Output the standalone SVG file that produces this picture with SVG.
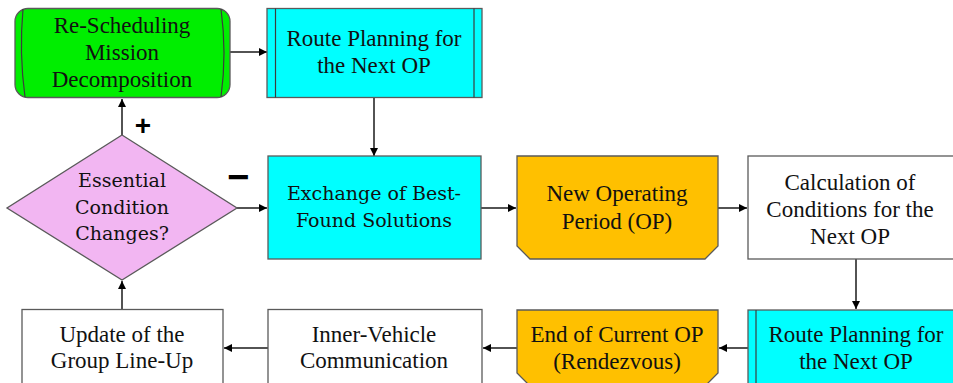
<svg xmlns="http://www.w3.org/2000/svg" width="953" height="383" viewBox="0 0 953 383">
  <style>
    .box { stroke: #5a5a5a; stroke-width: 1.3; }
    .inner { fill: none; stroke: #3c3c3c; stroke-width: 1.2; }
    .white { fill: #ffffff; }
    .cyan { fill: #00ffff; }
    .amber { fill: #ffc000; }
    .green { fill: #00ee00; }
    .pink { fill: #f2b6f2; }
    .lbl { font-family: "Liberation Serif", "DejaVu Serif", serif; font-size: 23px; fill: #111111; text-anchor: middle; }
    .lbl2 { font-family: "DejaVu Serif", "Liberation Serif", serif; font-size: 19px; fill: #111111; text-anchor: middle; }
    .sign { font-family: "Liberation Sans", Arial, sans-serif; font-weight: bold; font-size: 28px; fill: #000000; text-anchor: middle; }
    .conn { fill: none; stroke: #1a1a1a; stroke-width: 1.5; marker-end: url(#arrow); }
  </style>
  <defs>
    <marker id="arrow" viewBox="0 0 10 10" refX="10" refY="5" markerWidth="8" markerHeight="8" markerUnits="userSpaceOnUse" orient="auto">
      <path d="M0,0 L10,5 L0,10 Z" fill="#000000"/>
    </marker>
  </defs>

  <rect width="953" height="383" fill="#ffffff"/>

  <g id="connectors">
    <line class="conn" x1="230" y1="52" x2="267" y2="52"/>
    <line class="conn" x1="374" y1="98" x2="374" y2="156"/>
    <line class="conn" x1="237" y1="208" x2="267" y2="208"/>
    <line class="conn" x1="481" y1="208" x2="516" y2="208"/>
    <line class="conn" x1="718" y1="208" x2="747" y2="208"/>
    <line class="conn" x1="856" y1="259" x2="856" y2="309"/>
    <line class="conn" x1="748" y1="348" x2="719" y2="348"/>
    <line class="conn" x1="517" y1="348" x2="483" y2="348"/>
    <line class="conn" x1="268" y1="348" x2="224" y2="348"/>
    <line class="conn" x1="122" y1="309" x2="122" y2="281"/>
    <line class="conn" x1="122" y1="135" x2="122" y2="99"/>
  </g>

  <g id="rescheduling">
    <rect class="box green" x="15" y="8.5" width="215" height="89" rx="13" ry="13"/>
    <path class="inner" d="M23,9 Q19,53 25,97"/>
    <path class="inner" d="M221,9 Q227,53 221,97"/>
    <text class="lbl" x="122" y="33">Re-Scheduling</text>
    <text class="lbl" x="122" y="60">Mission</text>
    <text class="lbl" x="122" y="87">Decomposition</text>
  </g>

  <g id="route-top">
    <rect class="box cyan" x="267" y="8.5" width="215" height="89"/>
    <line class="inner" x1="275.5" y1="8.5" x2="275.5" y2="97.5"/>
    <line class="inner" x1="474" y1="8.5" x2="474" y2="97.5"/>
    <text class="lbl" x="374" y="46">Route Planning for</text>
    <text class="lbl" x="374" y="73">the Next OP</text>
  </g>

  <g id="decision">
    <polygon class="box pink" points="122,135 237,208 122,280 7,208"/>
    <text class="lbl2" x="122" y="187">Essential</text>
    <text class="lbl2" x="122" y="214">Condition</text>
    <text class="lbl2" x="122" y="240">Changes?</text>
    <text class="sign" x="143" y="135">+</text>
    <text class="sign" x="238" y="190" style="font-size:38px">−</text>
  </g>

  <g id="exchange">
    <rect class="box cyan" x="268" y="156" width="213" height="103"/>
    <text class="lbl2" x="374" y="200">Exchange of Best-</text>
    <text class="lbl2" x="374" y="227">Found Solutions</text>
  </g>

  <g id="new-op">
    <polygon class="box amber" points="517,156 718,156 718,246 705,259 530,259 517,246"/>
    <text class="lbl" x="617" y="201">New Operating</text>
    <text class="lbl" x="617" y="229">Period (OP)</text>
  </g>

  <g id="calculation">
    <rect class="box white" x="748" y="156" width="215" height="103"/>
    <text class="lbl" x="850" y="190">Calculation of</text>
    <text class="lbl" x="850" y="217">Conditions for the</text>
    <text class="lbl" x="850" y="244">Next OP</text>
  </g>

  <g id="route-bottom">
    <rect class="box cyan" x="748" y="310" width="215" height="90"/>
    <line class="inner" x1="756" y1="310" x2="756" y2="400"/>
    <text class="lbl" x="856" y="342">Route Planning for</text>
    <text class="lbl" x="856" y="369">the Next OP</text>
  </g>

  <g id="end-op">
    <polygon class="box amber" points="517,310 718,310 718,373 705,386 530,386 517,373"/>
    <text class="lbl" x="617" y="342">End of Current OP</text>
    <text class="lbl" x="617" y="369">(Rendezvous)</text>
  </g>

  <g id="inner-vehicle">
    <rect class="box white" x="268" y="309.5" width="214" height="90"/>
    <text class="lbl" x="374" y="342">Inner-Vehicle</text>
    <text class="lbl" x="374" y="368">Communication</text>
  </g>

  <g id="update">
    <rect class="box white" x="22" y="309.5" width="201" height="90"/>
    <text class="lbl" x="122" y="342">Update of the</text>
    <text class="lbl" x="122" y="368">Group Line-Up</text>
  </g>
</svg>
